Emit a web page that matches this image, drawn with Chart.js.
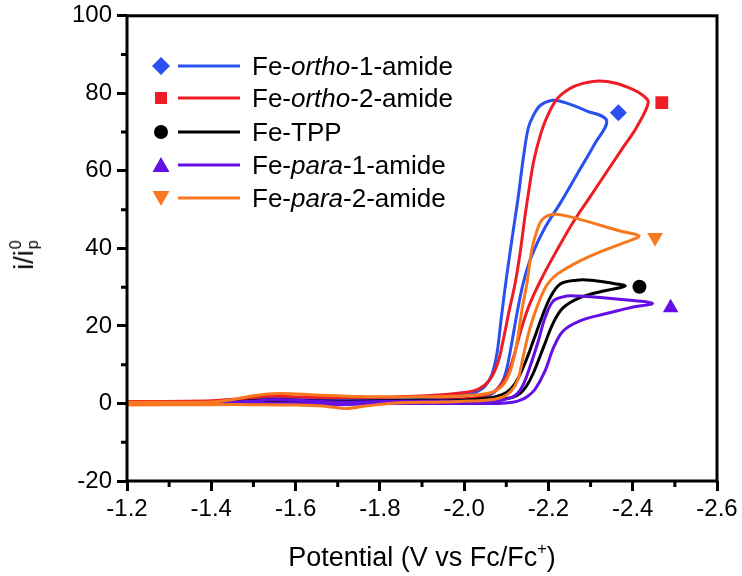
<!DOCTYPE html>
<html>
<head>
<meta charset="utf-8">
<script src="https://cdn.jsdelivr.net/npm/chart.js@4.4.0/dist/chart.umd.min.js"></script>
<style>
html, body { margin: 0; padding: 0; background: #fff; }
#wrap { position: relative; width: 742px; height: 576px; font-family: "Liberation Sans", Arial, sans-serif; color: #000; }
#cv { position: absolute; left: 0; top: 0; }
.row { position: absolute; left: 148px; height: 32px; display: flex; align-items: center; font-size: 26px; white-space: nowrap; }
.row svg { width: 104px; height: 32px; flex: none; }
#xtitle { position: absolute; left: 422px; top: 557px; transform: translate(-50%, -50%); font-size: 27px; white-space: nowrap; }
#xtitle sup { font-size: 60%; vertical-align: 0.7em; line-height: 0; }
#ytitle { position: absolute; left: 24px; top: 255px; transform: translate(-50%, -50%) rotate(-90deg); font-size: 27px; white-space: nowrap; display: flex; align-items: center; }
#ytitle .ss { display: inline-flex; flex-direction: column; font-size: 60%; line-height: 1.05; margin-left: 1px; }
</style>
</head>
<body>
<div id="wrap">
  <canvas id="cv" width="742" height="576"></canvas>
  <div id="legend"></div>
  <div id="ytitle">i/i<span class="ss"><span>0</span><span>p</span></span></div>
  <div id="xtitle">Potential (V vs Fc/Fc<sup>+</sup>)</div>
</div>
<script>
// axis ticks
const X_TICKS = [-1.2, -1.4, -1.6, -1.8, -2.0, -2.2, -2.4, -2.6];
const X_MINOR = [-1.3, -1.5, -1.7, -1.9, -2.1, -2.3, -2.5];
const Y_TICKS = [-20, 0, 20, 40, 60, 80, 100];
const Y_MINOR = [-10, 10, 30, 50, 70, 90];

// Fe-ortho-1-amide  (potential in V, current i/ip0)
const orthoOneE = [-1.20, -1.40, -1.50, -1.60, -1.70, -1.80, -1.90, -2.00, -2.04, -2.07, -2.09, -2.10,
  -2.112, -2.125, -2.14, -2.16, -2.19, -2.23, -2.27, -2.31, -2.338,
  -2.29, -2.24, -2.21, -2.18, -2.163,
  -2.152, -2.140, -2.128, -2.117, -2.105, -2.095, -2.087, -2.078, -2.066, -2.05, -2.03, -2.00,
  -1.90, -1.80, -1.70, -1.60, -1.55, -1.50, -1.40, -1.20];
const orthoOneI = [-0.1, 0.0, 0.3, 0.3, -0.2, 0.2, 0.4, 0.8, 1.4, 2.8, 5.5, 8.5,
  15, 23, 31, 38, 45, 52, 59.5, 67, 73,
  75.5, 77.6, 78.2, 76.8, 74,
  71, 63, 53, 45, 36, 28, 21, 13, 7.5, 4.5, 3.0, 2.2,
  1.5, 1.2, 1.0, 1.3, 1.5, 1.0, 0.4, 0.2];

// Fe-ortho-2-amide
const orthoTwoE = [-1.20, -1.40, -1.50, -1.60, -1.70, -1.80, -1.90, -2.00, -2.04, -2.07, -2.09, -2.105,
  -2.12, -2.135, -2.155, -2.185, -2.22, -2.26, -2.30, -2.346, -2.38, -2.409, -2.437,
  -2.425, -2.40, -2.36, -2.32, -2.28, -2.25, -2.22, -2.197,
  -2.183, -2.166, -2.155, -2.144, -2.133, -2.121, -2.107, -2.094, -2.08, -2.06, -2.035, -2.00,
  -1.90, -1.80, -1.70, -1.60, -1.55, -1.50, -1.40, -1.20];
const orthoTwoI = [0.0, 0.2, 0.5, 0.5, 0.2, 0.5, 0.8, 1.2, 1.8, 3.0, 5.2, 8,
  13, 19, 25.5, 32.5, 39.5, 47, 53.5, 61, 66.5, 71.2, 77.6,
  79.4, 81, 82.6, 83.2, 82.5, 81.2, 78.5, 74,
  70, 63, 56, 48, 39, 31, 24, 17, 10.5, 6, 3.8, 2.8,
  1.9, 1.6, 1.5, 1.7, 1.9, 1.5, 0.7, 0.5];

// Fe-TPP
const tppE = [-1.20, -1.40, -1.50, -1.60, -1.70, -1.80, -1.90, -2.00, -2.05, -2.09, -2.115, -2.133,
  -2.148, -2.164, -2.188, -2.212, -2.235, -2.275, -2.33, -2.382,
  -2.34, -2.30, -2.267, -2.228,
  -2.204, -2.184, -2.164, -2.142, -2.12, -2.10, -2.07, -2.03, -2.00,
  -1.90, -1.80, -1.70, -1.60, -1.55, -1.50, -1.40, -1.20];
const tppI = [-0.1, 0.0, 0.2, 0.2, -0.1, 0.2, 0.3, 0.5, 0.7, 1.1, 1.6, 2.6,
  4.5, 7.8, 14.4, 20.9, 24.7, 27.3, 29.0, 30.3,
  31.2, 31.8, 31.8, 30.8,
  27.3, 22.1, 16.1, 9.8, 5.0, 2.8, 1.6, 1.1, 0.9,
  0.8, 0.7, 0.6, 0.8, 1.0, 0.7, 0.2, 0.1];

// Fe-para-1-amide
const paraOneE = [-1.20, -1.40, -1.50, -1.60, -1.70, -1.80, -1.90, -2.00, -2.08, -2.115, -2.135,
  -2.15, -2.168, -2.192, -2.212, -2.235, -2.275, -2.33, -2.394, -2.447,
  -2.394, -2.33, -2.27, -2.243, -2.212,
  -2.192, -2.176, -2.156, -2.138, -2.12, -2.09, -2.05, -2.00,
  -1.90, -1.80, -1.70, -1.60, -1.55, -1.50, -1.40, -1.20];
const paraOneI = [-0.2, -0.1, 0.0, 0.0, -0.3, 0.0, 0.0, 0.0, 0.0, 0.3, 0.9,
  1.8, 3.6, 8.4, 14.4, 18.7, 21.3, 23.0, 24.7, 25.8,
  26.6, 27.3, 27.7, 27.7, 26.5,
  22.1, 16.1, 9.4, 4.4, 2.0, 0.9, 0.6, 0.6,
  0.6, 0.5, 0.4, 0.8, 1.0, 0.6, 0.1, 0.0];

// Fe-para-2-amide
const paraTwoE = [-1.20, -1.40, -1.50, -1.60, -1.67, -1.72, -1.77, -1.85, -1.95, -2.05, -2.09, -2.11,
  -2.127, -2.14, -2.155, -2.175, -2.196, -2.22, -2.275, -2.33, -2.38, -2.415,
  -2.37, -2.30, -2.25, -2.212, -2.186, -2.171,
  -2.160, -2.149, -2.138, -2.125, -2.11, -2.09, -2.06, -2.00,
  -1.95, -1.85, -1.75, -1.65, -1.56, -1.50, -1.45, -1.40, -1.20];
const paraTwoI = [-0.4, -0.3, -0.3, -0.4, -0.7, -1.3, -0.6, 0.2, 0.4, 0.8, 1.6, 3.0,
  6.0, 12, 19, 25.5, 30.5, 33.3, 36.8, 39.4, 41.5, 43.2,
  44.5, 46.7, 48.2, 48.8, 47.5, 44,
  39.4, 31, 24.7, 15.5, 8.5, 4.5, 2.7, 2.0,
  1.8, 1.7, 1.8, 2.2, 2.6, 2.0, 1.0, 0.4, 0.3];

// end-of-scan markers
const markerE = [-2.366, -2.469, -2.416, -2.490, -2.453];
const markerI = [75.0, 77.6, 30.1, 24.7, 42.8];

const NAMES = [
  "Fe-<i>ortho</i>-1-amide",
  "Fe-<i>ortho</i>-2-amide",
  "Fe-TPP",
  "Fe-<i>para</i>-1-amide",
  "Fe-<i>para</i>-2-amide",
];
const COLORS = ["#2a50f0", "#ee1c25", "#000000", "#6410e4", "#f8781f"];
const STYLES = ["rectRot", "rect", "circle", "triangle", "triangle"];
const RADII = [8.5, 9, 7, 9, 9];
const ROTS = [0, 0, 0, 0, 180];

const zip = (e, i) => e.map((v, k) => ({ x: v, y: i[k] }));
const curves = [
  zip(orthoOneE, orthoOneI),
  zip(orthoTwoE, orthoTwoI),
  zip(tppE, tppI),
  zip(paraOneE, paraOneI),
  zip(paraTwoE, paraTwoI),
];

// draw orange on top, then purple, black, red, blue
const datasets = [];
[4, 3, 2, 1, 0].forEach(k => {
  datasets.push({
    type: "line",
    label: NAMES[k],
    data: curves[k],
    borderColor: COLORS[k],
    borderWidth: 3,
    pointRadius: 0,
    tension: 0.35,
    fill: false,
  });
});
markerE.forEach((e, k) => {
  datasets.push({
    type: "scatter",
    data: [{ x: e, y: markerI[k] }],
    backgroundColor: COLORS[k],
    borderColor: COLORS[k],
    borderWidth: 0,
    pointStyle: STYLES[k],
    pointRadius: RADII[k],
    pointRotation: ROTS[k],
  });
});

// frame + minor ticks
const framePlugin = {
  id: "frame",
  afterDraw(chart) {
    const { ctx, chartArea: a, scales } = chart;
    ctx.save();
    ctx.strokeStyle = "#000";
    ctx.lineWidth = 3;
    ctx.strokeRect(a.left, a.top, a.right - a.left, a.bottom - a.top);
    ctx.beginPath();
    X_MINOR.forEach(v => {
      const px = scales.x.getPixelForValue(v);
      ctx.moveTo(px, a.bottom);
      ctx.lineTo(px, a.bottom + 6);
    });
    Y_MINOR.forEach(v => {
      const py = scales.y.getPixelForValue(v);
      ctx.moveTo(a.left, py);
      ctx.lineTo(a.left - 6, py);
    });
    ctx.stroke();
    ctx.restore();
  },
};

const tickFont = { family: "'Liberation Sans', Arial, sans-serif", size: 24 };
const yTickFont = { family: "'Liberation Sans', Arial, sans-serif", size: 24, lineHeight: 0.9 };

new Chart(document.getElementById("cv").getContext("2d"), {
  type: "line",
  data: { datasets },
  options: {
    responsive: false,
    animation: false,
    layout: { padding: { top: 10, right: 25, left: 0, bottom: 0 } },
    plugins: { legend: { display: false }, tooltip: { enabled: false } },
    scales: {
      x: {
        type: "linear",
        reverse: true,
        min: -2.6,
        max: -1.2,
        afterBuildTicks: s => { s.ticks = X_TICKS.map(v => ({ value: v })); },
        afterFit: s => { s.height = 95; },
        ticks: { font: tickFont, color: "#000", padding: 4, maxRotation: 0, autoSkip: false, callback: v => v.toFixed(1) },
        grid: { drawOnChartArea: false, tickLength: 10, tickWidth: 3, tickColor: "#000" },
        border: { display: false },
      },
      y: {
        min: -20,
        max: 100,
        afterBuildTicks: s => { s.ticks = Y_TICKS.map(v => ({ value: v })); },
        afterFit: s => { s.width = 127; },
        ticks: { font: yTickFont, color: "#000", padding: 5, autoSkip: false, callback: v => String(v) },
        grid: { drawOnChartArea: false, tickLength: 10, tickWidth: 3, tickColor: "#000" },
        border: { display: false },
      },
    },
  },
  plugins: [framePlugin],
});

// legend (HTML so the italic parts stay real text)
const ROW_Y = [66, 98, 132, 165, 198];
function markerSvg(k) {
  const c = COLORS[k];
  let m = "";
  if (k === 0) m = `<polygon points="13,7 22,16 13,25 4,16" fill="${c}"/>`;
  if (k === 1) m = `<rect x="7" y="10" width="12" height="12" fill="${c}"/>`;
  if (k === 2) m = `<circle cx="13" cy="16" r="7" fill="${c}"/>`;
  if (k === 3) m = `<polygon points="13,8 21.5,23 4.5,23" fill="${c}"/>`;
  if (k === 4) m = `<polygon points="4.5,9 21.5,9 13,24" fill="${c}"/>`;
  return `<svg viewBox="0 0 104 32">${m}<line x1="30" y1="16" x2="92" y2="16" stroke="${c}" stroke-width="3"/></svg>`;
}
const legend = document.getElementById("legend");
NAMES.forEach((n, k) => {
  const row = document.createElement("div");
  row.className = "row";
  row.style.top = (ROW_Y[k] - 16) + "px";
  row.innerHTML = markerSvg(k) + `<span>${n}</span>`;
  legend.appendChild(row);
});
</script>
</body>
</html>
